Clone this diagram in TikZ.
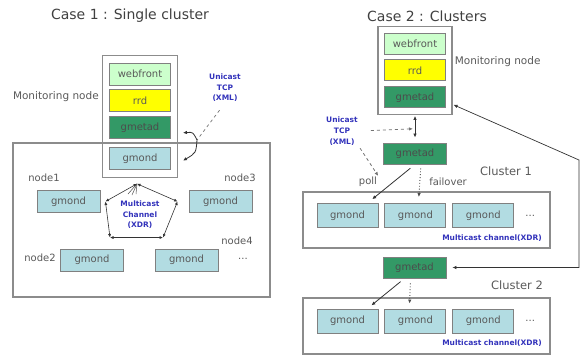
\documentclass[tikz,border=0pt]{standalone}
\usepackage{fontspec}
\setmainfont{DejaVu Sans}
\usepackage{tikz}
\usetikzlibrary{positioning,arrows.meta,calc,fit}
\definecolor{GLweb}{HTML}{CCFFCC}
\definecolor{GLrrd}{HTML}{FFFF00}
\definecolor{GLmeta}{HTML}{339966}
\definecolor{GLmond}{HTML}{B2DCE2}
\definecolor{GLline}{HTML}{8C8C8C}
\definecolor{GLtext}{HTML}{595959}
\definecolor{GLblue}{HTML}{3333BB}
\tikzset{
  stackbox/.style={draw=black!50, line width=0.9pt, minimum width=61pt, minimum height=22pt, inner sep=0pt, font=\fontsize{10}{12}\selectfont, text=GLtext},
  webbox/.style={stackbox, fill=GLweb},
  rrdbox/.style={stackbox, fill=GLrrd},
  metabox/.style={stackbox, fill=GLmeta, text=black!70},
  mondbox/.style={stackbox, fill=GLmond},
  frame/.style={draw=GLline, line width=1.3pt, inner sep=0pt},
  lbl/.style={font=\fontsize{10}{12}\selectfont, text=GLtext, inner sep=1pt},
  biglbl/.style={lbl, font=\fontsize{11.5}{13}\selectfont},
  ttl/.style={font=\fontsize{14}{16}\selectfont, text=black!75},
  bluelbl/.style={font=\fontsize{7.5}{10.5}\selectfont\bfseries, text=GLblue, align=center, inner sep=1pt},
  tipline/.style={-{Latex[length=4pt,width=3.5pt]}, line width=0.8pt, draw=black!80},
  dashline/.style={dashed, line width=0.7pt, draw=black!55},
  dotline/.style={dotted, line width=0.9pt, draw=black!70, -{Latex[length=4pt,width=3.5pt]}},
  chan/.style={{Latex[length=3.5pt,width=3pt]}-{Latex[length=3.5pt,width=3pt]}, line width=0.6pt, draw=black!80}
}
\begin{document}
\begin{tikzpicture}[x=1pt, y=-1pt, node distance=4pt]
\useasboundingbox (0,0) rectangle (581,356);
% case 1
\node[ttl] (ttl1) at (130,16) {Case 1 : Single cluster};
\node[frame, minimum width=257pt, minimum height=154pt] (clu1) at (141.5,220) {};
\node[webbox] (web1) at (140,74) {webfront};
\node[rrdbox, below=of web1] (rrd1) {rrd};
\node[metabox, below=of rrd1] (meta1) {gmetad};
\node[mondbox, below=8pt of meta1] (mond1) {gmond};
\node[frame, fit=(web1)(mond1), inner xsep=6.5pt, inner ysep=7pt] (mon1) {};
\node[lbl, anchor=east, font=\fontsize{10.5}{12}\selectfont] (monlbl1) at ($(mon1.west |- rrd1)+(-2,-4)$) {Monitoring node};
\node[mondbox, minimum width=63pt] (n1) at (68.5,201.5) {gmond};
\node[mondbox, minimum width=63pt] (n3) at (220.5,201.5) {gmond};
\node[mondbox, minimum width=63pt] (n2) at (92,260) {gmond};
\node[mondbox, minimum width=63pt] (n4) at (186.5,260) {gmond};
\node[lbl] (lab1) at (44,178) {node1};
\node[lbl] (lab3) at (240,178) {node3};
\node[lbl] (lab4) at (237,241) {node4};
\node[lbl] (lab2) at (40,258) {node2};
\node[lbl] (more1) at (243,259) {...};
\node[bluelbl] (uni1) at (225,88) {Unicast\\TCP\\(XML)};
\coordinate (j1) at (197,140);
\coordinate (t1) at ($(meta1.east)+(12,5)$);
\coordinate (t2) at ($(mond1.east)+(12,2)$);
\draw[dashline, shorten <=9pt] (uni1.south) -- (j1);
\draw[tipline] (j1) .. controls (193,132) .. (t1);
\draw[tipline] (j1) .. controls (196,153) .. (t2);
\coordinate (p1) at ($(mon1.south)+(-3,6)$);
\coordinate (p2) at ($(n3.west)+(-11,0)$);
\coordinate (p3) at ($(n4.north)+(-23.5,-11)$);
\coordinate (p4) at ($(n2.north)+(18,-11)$);
\coordinate (p5) at ($(n1.east)+(5,0)$);
\foreach \a/\b in {p1/p2,p2/p3,p3/p4,p4/p5,p5/p1}
  \draw[chan] (\a) -- (\b);
\foreach \x/\y in {128/194,132/195,136/194}
  \draw[line width=0.5pt, black!70] (p1) -- (\x,\y);
\node[bluelbl] (mc1) at (140,215) {Multicast\\Channel\\(XDR)};
% case 2
\node[ttl] (ttl2) at (427,16) {Case 2 : Clusters};
\node[webbox, minimum height=21pt] (web2) at (415,43.5) {webfront};
\node[rrdbox, minimum height=21pt, below=5pt of web2] (rrd2) {rrd};
\node[metabox, minimum height=21pt, below=5pt of rrd2] (meta2) {gmetad};
\node[frame, fit=(web2)(meta2), inner sep=6pt] (mon2) {};
\node[lbl, anchor=west, font=\fontsize{10.5}{12}\selectfont] (monlbl2) at ($(mon2.east |- rrd2)+(1,-8.5)$) {Monitoring node};
\node[metabox, minimum width=63pt, minimum height=21pt] (meta2a) at (415,153.5) {gmetad};
\node[bluelbl, font=\fontsize{7.5}{11}\selectfont\bfseries] (uni2) at (342,131) {Unicast\\TCP\\(XML)};
\node[biglbl] (cl1) at (506,171) {Cluster 1};
\node[lbl] (poll1) at (368,182) {poll};
\node[lbl] (fail1) at (448,182) {failover};
\node[frame, minimum width=247pt, minimum height=56pt] (clu2) at (426.5,220) {};
\node[mondbox, minimum height=24pt] (g11) at (347.5,215.5) {gmond};
\node[mondbox, minimum height=24pt, right=6pt of g11] (g12) {gmond};
\node[mondbox, minimum height=24pt, right=6pt of g12] (g13) {gmond};
\node[lbl, right=10pt of g13] (more2) {...};
\node[bluelbl, anchor=east] (mc2) at (543,238) {Multicast channel(XDR)};
\node[metabox, minimum width=63pt, minimum height=21pt] (meta2b) at (414.5,267.5) {gmetad};
\node[biglbl] (cl2) at (517,285) {Cluster 2};
\node[frame, minimum width=247pt, minimum height=56pt] (clu3) at (426.5,326) {};
\node[mondbox, minimum height=24pt] (g21) at (347.5,321) {gmond};
\node[mondbox, minimum height=24pt, right=6pt of g21] (g22) {gmond};
\node[mondbox, minimum height=24pt, right=6pt of g22] (g23) {gmond};
\node[lbl, right=10pt of g23] (more3) {...};
\node[bluelbl, anchor=east] (mc3) at (543,343) {Multicast channel(XDR)};
\coordinate (j2) at ($(mon2.south)!0.5!(meta2a.north)$);
\draw[tipline, {Latex[length=4pt,width=3.5pt]}-{Latex[length=4pt,width=3.5pt]}, shorten <=1pt, shorten >=5pt] (mon2.south) -- (meta2a.north);
\draw[dashline, tipline, dashed, draw=black!55, shorten <=12pt, shorten >=2pt] (uni2.east) -- (j2);
\draw[dashline, tipline, dashed, draw=black!55, shorten <=2pt] (uni2.south east) -- (poll1.north east);
\draw[tipline, shorten <=6pt, shorten >=6pt] (meta2a.south) -- ($(g11.north)+(20,0)$);
\draw[dotline, shorten <=4pt, shorten >=6pt] ($(meta2a.south)+(6,0)$) -- ($(g12.north)+(3,0)$);
\draw[tipline, shorten <=5pt, shorten >=5pt] ($(meta2b.south)+(-10,0)$) -- ($(g21.north)+(20,0)$);
\draw[dotline, shorten <=5pt, shorten >=5pt] ($(meta2b.south)+(-4,0)$) -- ($(g22.north)+(-6,0)$);
\coordinate (rt) at (579,160);
\draw[tipline, {Latex[length=4pt,width=3.5pt]}-{Latex[length=4pt,width=3.5pt]}, line width=0.7pt, shorten <=6pt, shorten >=1pt] (meta2b.east) -| (rt) -- ($(mon2.east)+(0,34)$);
\end{tikzpicture}
\end{document}
